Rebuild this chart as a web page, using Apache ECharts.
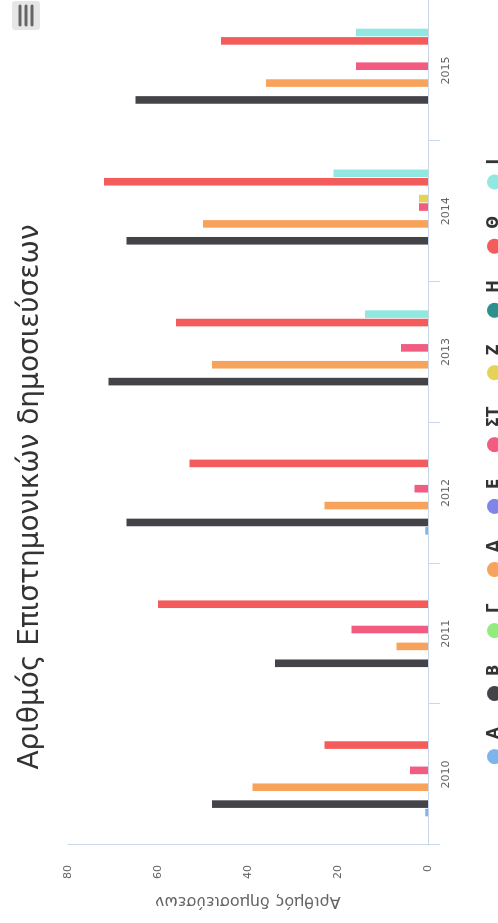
<!DOCTYPE html>
<html>
<head>
<meta charset="utf-8">
<script src="https://cdn.jsdelivr.net/npm/echarts@6/dist/echarts.min.js"></script>
<style>
  html, body { margin: 0; padding: 0; background: #fff; overflow: hidden; }
  #wrap { position: absolute; left: 0; top: 0; width: 498px; height: 923px; overflow: hidden; }
  #chart { position: absolute; left: 0; top: 0; width: 923px; height: 498px;
           transform-origin: 0 0; transform: translate(0, 923px) rotate(-90deg); }
</style>
</head>
<body>
<div id="wrap"><div id="chart"></div></div>
<script>
const titleText = 'Αριθμός Επιστημονικών δημοσιεύσεων';
const valueAxisName = 'Αριθμός δημοσιεύσεων';
const years = ['2010', '2011', '2012', '2013', '2014', '2015'];
const seriesNames = ['A', 'B', 'Γ', 'Δ', 'Ε', 'ΣΤ', 'Ζ', 'Η', 'Θ', 'Ι'];
const seriesColors = ['#7cb5ec', '#434348', '#90ed7d', '#f7a35c', '#8085e9', '#f15c80', '#e4d354', '#2b908f', '#f45b5b', '#91e8e1'];

const valuesA  = [0.6, null, 0.6, null, null, null];
const valuesB  = [48, 34, 67, 71, 67, 65];
const valuesG  = [null, null, null, null, null, null];
const valuesD  = [39, 7, 23, 48, 50, 36];
const valuesE  = [null, null, null, null, null, null];
const valuesST = [4, 17, 3, 6, 2, 16];
const valuesZ  = [null, null, null, null, 2, null];
const valuesH  = [null, null, null, null, null, null];
const valuesTh = [23, 60, 53, 56, 72, 46];
const valuesI  = [null, null, null, 14, 21, 16];

const allValues = [valuesA, valuesB, valuesG, valuesD, valuesE, valuesST, valuesZ, valuesH, valuesTh, valuesI];
const valueTicks = [0, 20, 40, 60, 80];

const FONT = 'DejaVu Sans';

const chart = echarts.init(document.getElementById('chart'), null, { renderer: 'canvas', width: 923, height: 498 });

const series = seriesNames.map((name, i) => ({
  name: name,
  type: 'bar',
  data: allValues[i],
  barWidth: 7.6,
  barGap: '11%',
  itemStyle: { color: seriesColors[i] },
  emphasis: { disabled: true }
}));

chart.setOption({
  animation: false,
  color: seriesColors,
  textStyle: { fontFamily: FONT },
  graphic: [
    {
      type: 'text', x: 426, y: 31,
      style: { text: titleText, fill: '#333333', font: '28px "DejaVu Sans"', align: 'center', verticalAlign: 'middle' }
    },
    {
      type: 'group', x: 893, y: 12,
      children: [
        { type: 'rect', shape: { x: 0, y: 0, width: 29, height: 28, r: 3 }, style: { fill: '#e6e6e6' } },
        { type: 'line', shape: { x1: 5, y1: 8, x2: 24, y2: 8 }, style: { stroke: '#666666', lineWidth: 3, lineCap: 'round' } },
        { type: 'line', shape: { x1: 5, y1: 14, x2: 24, y2: 14 }, style: { stroke: '#666666', lineWidth: 3, lineCap: 'round' } },
        { type: 'line', shape: { x1: 5, y1: 20, x2: 24, y2: 20 }, style: { stroke: '#666666', lineWidth: 3, lineCap: 'round' } }
      ]
    }
  ],
  legend: {
    data: seriesNames,
    left: 'center',
    top: 482,
    icon: 'circle',
    itemWidth: 25,
    itemHeight: 15,
    itemGap: 26.5,
    textStyle: { fontFamily: FONT, fontWeight: 'bold', fontSize: 15, color: '#333333' }
  },
  grid: { left: 78, right: 0, top: 68, bottom: 70, containLabel: false },
  xAxis: {
    type: 'category',
    data: years,
    axisLine: { lineStyle: { color: '#ccd6eb', width: 1 } },
    axisTick: { show: true, length: 12, lineStyle: { color: '#ccd6eb' } },
    axisLabel: { color: '#666666', fontSize: 11, margin: 13, fontFamily: FONT },
    splitLine: { show: false }
  },
  yAxis: {
    type: 'value',
    min: valueTicks[0],
    max: valueTicks[valueTicks.length - 1],
    interval: valueTicks[1] - valueTicks[0],
    name: valueAxisName,
    nameLocation: 'middle',
    nameGap: 48,
    nameTextStyle: { color: '#666666', fontSize: 16, fontFamily: FONT },
    axisLine: { show: true, lineStyle: { color: '#ccd6eb', width: 1 } },
    axisTick: { show: false },
    axisLabel: { color: '#666666', fontSize: 11, margin: 20, fontFamily: FONT },
    splitLine: { show: false }
  },
  series: series
});
</script>
</body>
</html>
